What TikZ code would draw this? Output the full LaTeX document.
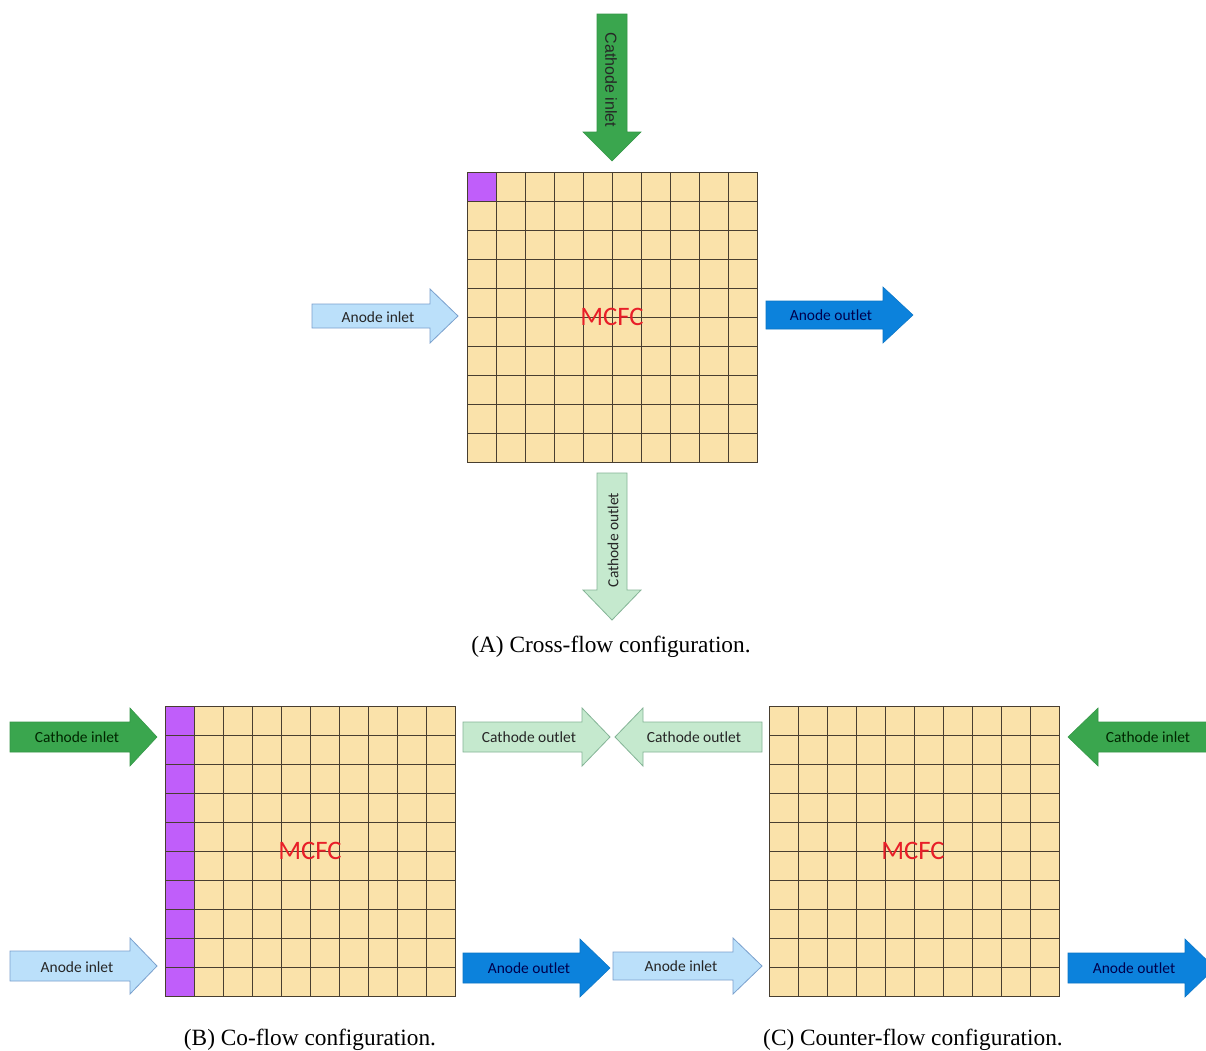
\documentclass[tikz,border=0pt]{standalone}
\usepackage{fontspec}
\setmainfont{Liberation Serif}
\newfontfamily\labelfont{Carlito}
\newfontfamily\arialfont{Liberation Sans}
\usetikzlibrary{positioning}

\definecolor{cellfill}{RGB}{250,226,170}
\definecolor{hotcell}{RGB}{192,94,250}
\definecolor{gridcol}{RGB}{72,62,48}
\definecolor{anodelight}{RGB}{187,224,250}
\definecolor{anodelightline}{RGB}{122,160,205}
\definecolor{anodedark}{RGB}{12,130,220}
\definecolor{cathdark}{RGB}{58,166,78}
\definecolor{cathlight}{RGB}{197,233,206}
\definecolor{cathlightline}{RGB}{132,180,150}
\definecolor{mcfcred}{RGB}{232,30,40}

\tikzset{
  lbl/.style={font=\labelfont\fontsize{11.6}{13}\selectfont,inner sep=0pt,text=black!85},
  anin/.style={fill=anodelight,draw=anodelightline,line width=0.6pt},
  anout/.style={fill=anodedark,draw=anodedark!90!black,line width=0.4pt},
  cain/.style={fill=cathdark,draw=cathdark!90!black,line width=0.4pt},
  caout/.style={fill=cathlight,draw=cathlightline,line width=0.6pt},
  gridline/.style={draw=gridcol,line width=0.55pt},
  core/.style={font=\labelfont\fontsize{20}{22}\selectfont,text=mcfcred,inner sep=0pt},
  caption/.style={font=\fontsize{17.5}{20}\selectfont,inner sep=0pt}
}

% horizontal block arrow: style, tail x, head x, tip x, mid y, half shaft, half head
\newcommand{\harrow}[7]{%
  \draw[#1] ({#2},{#5-#6}) -- ({#3},{#5-#6}) -- ({#3},{#5-#7}) -- ({#4},{#5})
    -- ({#3},{#5+#7}) -- ({#3},{#5+#6}) -- ({#2},{#5+#6}) -- cycle;}
% vertical block arrow: style, tail y, head y, tip y, mid x, half shaft, half head
\newcommand{\varrow}[7]{%
  \draw[#1] ({#5-#6},{#2}) -- ({#5-#6},{#3}) -- ({#5-#7},{#3}) -- ({#5},{#4})
    -- ({#5+#7},{#3}) -- ({#5+#6},{#3}) -- ({#5+#6},{#2}) -- cycle;}
% 10x10 cells, top left corner at (#1,#2), #3 = extra fills under the lines
\newcommand{\cellgrid}[3]{%
  \fill[cellfill] (#1,#2) rectangle ++(290,290);
  #3
  \foreach \k in {1,...,9} {
    \draw[gridline] ({#1+29*\k},#2) -- ++(0,290);
    \draw[gridline] (#1,{#2+29*\k}) -- ++(290,0);
  }
  \draw[gridline] (#1,#2) rectangle ++(290,290);}

\begin{document}
\begin{tikzpicture}[x=0.75pt,y=-0.75pt]
\useasboundingbox (0,0) rectangle (1206,1050);
\fill[white] (0,0) rectangle (1206,1050);

% cross-flow
\cellgrid{467}{172}{\fill[hotcell] (467,172) rectangle ++(29,29);}
\node[core] (mcfcA) at (612,317) {MCFC};

\varrow{cain}{14}{132}{161}{612}{15}{29}
\varrow{caout}{473}{590}{620}{612}{15}{29}
\harrow{anin}{312}{430}{458}{316}{12}{27}
\harrow{anout}{766}{883}{913}{315}{14}{28}

\node[lbl,font=\arialfont\fontsize{12}{14}\selectfont,rotate=-90] (cinA) at (611,80) {Cathode inlet};
\node[lbl,rotate=90] (coutA) at (613,540) {Cathode outlet};
\node[lbl] (ainA) at (378,317) {Anode inlet};
\node[lbl,text=blue!30!black] (aoutA) at (831,315) {Anode outlet};

\node[caption] (capA) at (611,647) {(A) Cross-flow configuration.};

% co-flow
\cellgrid{165}{706}{\fill[hotcell] (165,706) rectangle ++(29,290);}
\node[core] (mcfcB) at (310,851) {MCFC};

\harrow{cain}{10}{130}{157}{737}{15}{29}
\harrow{anin}{10}{130}{157}{966}{15}{28}
\harrow{caout}{463}{582}{610}{737}{15}{29}
\harrow{anout}{463}{580}{610}{968}{15}{29}

\node[lbl,text=green!15!black] (cinB) at (77,737) {Cathode inlet};
\node[lbl] (ainB) at (77,967) {Anode inlet};
\node[lbl] (coutB) at (529,737) {Cathode outlet};
\node[lbl,text=blue!30!black] (aoutB) at (529,968) {Anode outlet};

\node[caption] (capB) at (310,1040) {(B) Co-flow configuration.};

% counter-flow
\cellgrid{769}{706}{}
\node[core] (mcfcC) at (913,851) {MCFC};

\harrow{caout}{762}{643}{615}{737}{15}{29}
\harrow{anin}{613}{733}{762}{966}{14}{28}
\harrow{cain}{1212}{1098}{1068}{737}{15}{29}
\harrow{anout}{1068}{1185}{1215}{968}{15}{29}

\node[lbl] (coutC) at (694,737) {Cathode outlet};
\node[lbl] (ainC) at (681,966) {Anode inlet};
\node[lbl,text=green!15!black] (cinC) at (1148,737) {Cathode inlet};
\node[lbl,text=blue!30!black] (aoutC) at (1134,968) {Anode outlet};

\node[caption] (capC) at (913,1040) {(C) Counter-flow configuration.};

\end{tikzpicture}
\end{document}
